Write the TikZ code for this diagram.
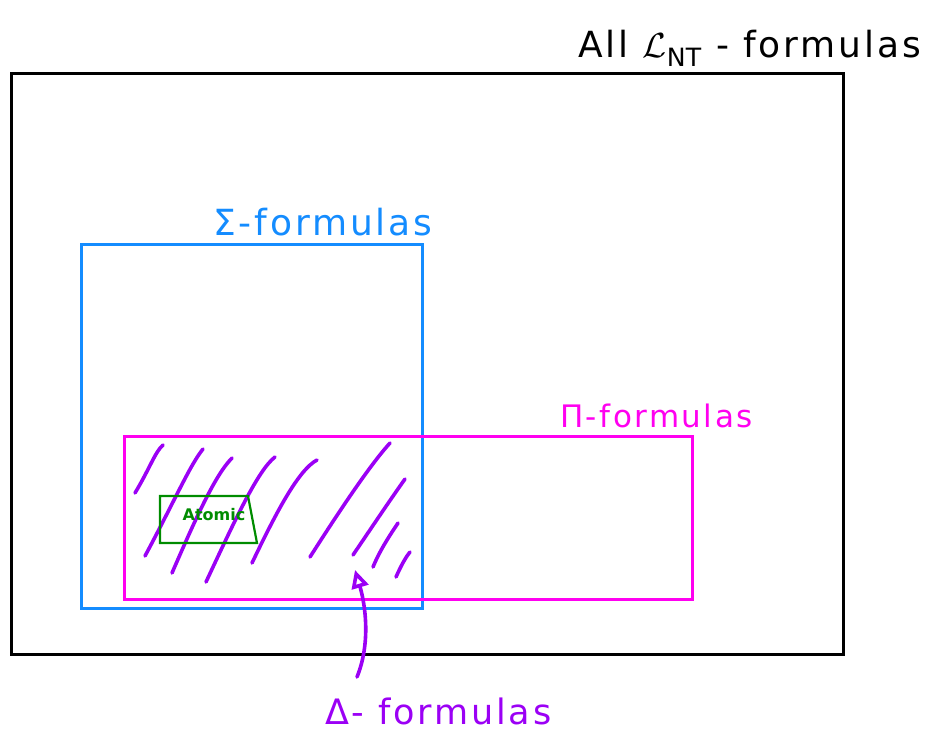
\documentclass[tikz,border=0pt]{standalone}
\usepackage{fontspec}
\setmainfont{DejaVu Sans}
\usetikzlibrary{arrows.meta}
\definecolor{sigblue}{RGB}{20,140,255}
\definecolor{pimag}{RGB}{255,0,240}
\definecolor{delpur}{RGB}{155,0,245}
\definecolor{atgreen}{RGB}{0,140,0}
\tikzset{
  box/.style={draw, line width=2.8pt, anchor=north west, inner sep=0pt},
  hatch/.style={draw=delpur, line width=3.6pt, line cap=round},
  lbl/.style={anchor=base west, inner sep=0pt}
}
\newcommand{\lblfont}[1]{\fontsize{#1}{#1}\selectfont\addfontfeature{LetterSpace=8}}
\begin{document}
\begin{tikzpicture}[x=1pt,y=-1pt]
\useasboundingbox (0,0) rectangle (937,731);
% outer box
\node (outer) [box, draw=black, minimum width=832pt, minimum height=581pt] at (10,72) {};
\node (alllbl) [lbl, font=\lblfont{36}] at (578,57) {All \scalebox{1.4}{$\mathcal{L}$}$_{\mathrm{NT}}$ - formulas};
% sigma box
\node (sigma) [box, draw=sigblue, minimum width=341pt, minimum height=364pt] at (80,243) {};
\node (siglbl) [lbl, text=sigblue, font=\lblfont{36}] at (213,235) {Σ-formulas};
% pi box
\node (pi) [box, draw=pimag, minimum width=568pt, minimum height=163pt] at (123,435) {};
\node (pilbl) [lbl, text=pimag, font=\lblfont{31}] at (560,427) {Π-formulas};
% hatch strokes
\draw[hatch] (135,493) .. controls (150,468) and (155,452) .. (163,445);
\draw[hatch] (145,556) .. controls (175,500) and (190,465) .. (203,449);
\draw[hatch] (172,573) .. controls (195,520) and (215,475) .. (232,458);
\draw[hatch] (206,582) .. controls (235,520) and (258,470) .. (275,457);
\draw[hatch] (252,563) .. controls (275,515) and (298,470) .. (317,460);
\draw[hatch] (310,557) .. controls (340,510) and (370,465) .. (390,443);
\draw[hatch] (353,555) .. controls (370,530) and (390,500) .. (405,479);
\draw[hatch] (373,567) .. controls (380,550) and (390,535) .. (398,523);
\draw[hatch] (396,577) .. controls (400,568) and (405,558) .. (410,552);
% atomic
\draw[draw=atgreen, line width=2.2pt] (160,496) -- (248,496) -- (257,543) -- (160,543) -- cycle;
\node (atomlbl) [text=atgreen, font=\bfseries\fontsize{16}{18}\selectfont] at (214,515) {Atomic};
% delta
\coordinate (dstart) at (357,677);
\coordinate (dtip) at (355,570);
\draw[draw=delpur, line width=3.6pt, line cap=round, -{Triangle[open, length=18pt, width=17pt, line width=3.6pt]}] (dstart) .. controls (372,640) and (364,600) .. (dtip);
\node (dellbl) [lbl, text=delpur, font=\lblfont{35}] at (325,724) {Δ- formulas};
\end{tikzpicture}
\end{document}
